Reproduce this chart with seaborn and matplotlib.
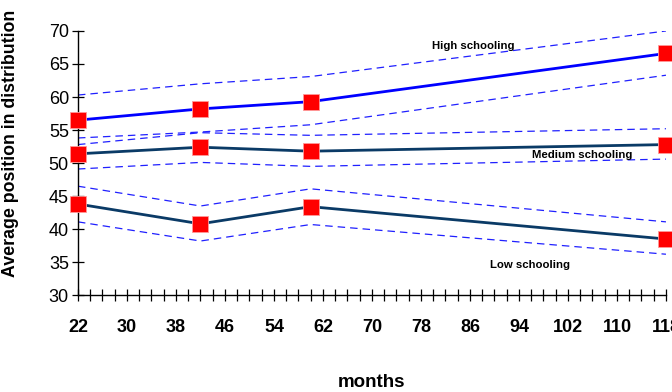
import numpy as np
import pandas as pd
import matplotlib
matplotlib.use('Agg')
import matplotlib.pyplot as plt
import seaborn as sns

sns.set_style('white')
plt.rcParams['font.family'] = ['Liberation Sans', 'DejaVu Sans']
plt.rcParams['text.color'] = 'black'
plt.rcParams['axes.labelcolor'] = 'black'
plt.rcParams['xtick.color'] = 'black'
plt.rcParams['ytick.color'] = 'black'

# data
months = [22, 42, 60, 118]
high = [56.5, 58.2, 59.3, 66.6]
high_upper = [60.3, 62.0, 63.1, 70.0]
high_lower = [53.8, 54.7, 55.8, 63.3]
medium = [51.4, 52.4, 51.8, 52.8]
medium_upper = [52.8, 54.6, 54.2, 55.2]
medium_lower = [49.1, 50.1, 49.5, 50.6]
low = [43.8, 40.8, 43.4, 38.5]
low_upper = [46.5, 43.5, 46.1, 41.1]
low_lower = [41.1, 38.2, 40.7, 36.2]
x_labels = list(range(22, 119, 8))

main = pd.DataFrame({
    'months': months * 3,
    'value': high + medium + low,
    'group': ['High schooling'] * 4 + ['Medium schooling'] * 4 + ['Low schooling'] * 4,
})
bands = pd.DataFrame({
    'months': months * 6,
    'value': high_upper + high_lower + medium_upper + medium_lower + low_upper + low_lower,
    'band': [f'b{i}' for i in range(6) for _ in range(4)],
})

fig = plt.figure(figsize=(6.72, 3.92), dpi=100)
ax = fig.add_axes([0.116, 0.247, 0.875, 0.674])

# confidence bands (thin dashed blue)
sns.lineplot(data=bands, x='months', y='value', units='band', estimator=None,
             color='#2020ff', lw=0.9, linestyle=(0, (6, 4)), ax=ax, legend=False)

# main series
palette = {'High schooling': '#0000ff', 'Medium schooling': '#0a3a66', 'Low schooling': '#0a3a66'}
sns.lineplot(data=main, x='months', y='value', hue='group', palette=palette,
             lw=2.0, marker='s', markersize=11, markerfacecolor='#ff0000',
             markeredgecolor='#ff9999', markeredgewidth=0.6, ax=ax, legend=False,
             clip_on=False, zorder=5)

ax.set_xlim(22, 118)
ax.set_ylim(30, 70)
ax.set_xticks(x_labels)
ax.set_xticks(list(range(22, 119, 2)), minor=True)
ax.set_yticks(list(range(30, 71, 5)))
ax.tick_params(axis='both', which='both', direction='inout', length=9, width=0.9,
               color='black', bottom=True, left=True)
ax.tick_params(axis='x', which='major', pad=13, labelsize=13)
ax.tick_params(axis='y', which='major', pad=2, labelsize=13)
for t in ax.get_xticklabels():
    t.set_fontweight('bold')

for s in ['top', 'right']:
    ax.spines[s].set_visible(False)
for s in ['left', 'bottom']:
    ax.spines[s].set_color('black')
    ax.spines[s].set_linewidth(1.0)

ax.set_xlabel('months', fontsize=13.5, fontweight='bold', va='center', ha='center')
ax.xaxis.set_label_coords(0.5, -0.329)
ax.set_ylabel('Average position in distribution', fontsize=12.8, fontweight='bold')
ax.yaxis.set_label_coords(-0.1, 0.575)

ax.text(86.6, 67.7, 'High schooling', fontsize=8.2, fontweight='bold', ha='center', va='center')
ax.text(104.4, 51.2, 'Medium schooling', fontsize=8.2, fontweight='bold', ha='center', va='center')
ax.text(95.8, 34.5, 'Low schooling', fontsize=8.2, fontweight='bold', ha='center', va='center')

fig.savefig('out.png', dpi=100)
